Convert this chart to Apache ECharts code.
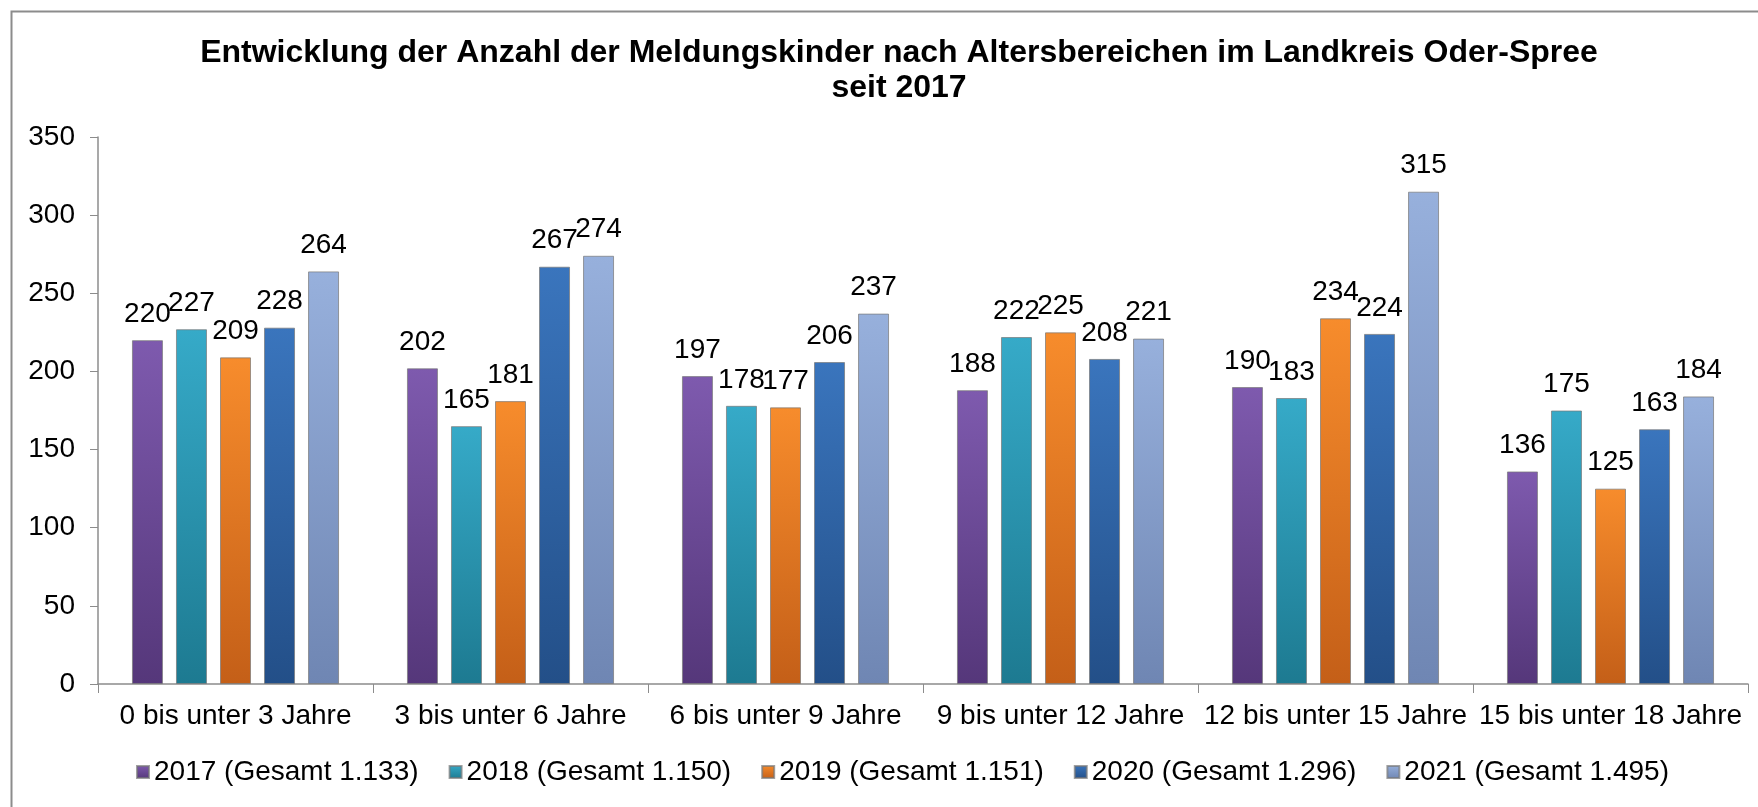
<!DOCTYPE html>
<html>
<head>
<meta charset="utf-8">
<script src="https://cdn.jsdelivr.net/npm/echarts@6/dist/echarts.min.js"></script>
<style>
  html, body { margin: 0; padding: 0; background: #fff; }
  #chart { width: 1758px; height: 807px; }
</style>
</head>
<body>
<div id="chart"></div>
<script>
// Altersbereiche
var categories = ['0 bis unter 3 Jahre', '3 bis unter 6 Jahre', '6 bis unter 9 Jahre',
  '9 bis unter 12 Jahre', '12 bis unter 15 Jahre', '15 bis unter 18 Jahre'];

var seriesNames = ['2017 (Gesamt 1.133)', '2018 (Gesamt 1.150)', '2019 (Gesamt 1.151)',
  '2020 (Gesamt 1.296)', '2021 (Gesamt 1.495)'];

var values2017 = [220, 202, 197, 188, 190, 136];
var values2018 = [227, 165, 178, 222, 183, 175];
var values2019 = [209, 181, 177, 225, 234, 125];
var values2020 = [228, 267, 206, 208, 224, 163];
var values2021 = [264, 274, 237, 221, 315, 184];

var yTicks = [0, 50, 100, 150, 200, 250, 300, 350];

// top / bottom colour of each bar gradient
var barColors = [
  ['#7e5aae', '#55377a'],
  ['#36aac8', '#1d7a91'],
  ['#f78c2c', '#c45f18'],
  ['#3a75bd', '#234f88'],
  ['#97b0dc', '#6f86b3']
];

var font = '"Liberation Sans", Arial, sans-serif';
var allValues = [values2017, values2018, values2019, values2020, values2021];

function grad(c) {
  return new echarts.graphic.LinearGradient(0, 0, 0, 1, [
    { offset: 0, color: c[0] },
    { offset: 1, color: c[1] }
  ]);
}

var series = allValues.map(function (vals, i) {
  return {
    name: seriesNames[i],
    type: 'bar',
    data: vals,
    barWidth: 31,
    barGap: '42%',
    itemStyle: {
      color: grad(barColors[i]),
      borderColor: 'rgba(120,120,120,0.7)',
      borderWidth: 1
    },
    label: {
      show: true,
      position: 'top',
      distance: 12,
      color: '#000',
      fontFamily: font,
      fontSize: 28
    }
  };
});

var chart = echarts.init(document.getElementById('chart'));
chart.setOption({
  animation: false,
  backgroundColor: '#fff',
  graphic: [{
    type: 'rect',
    left: 9, top: 9,
    shape: { width: 1800, height: 850 },
    style: { fill: 'none', stroke: '#8c8c8c', lineWidth: 2 },
    silent: true
  }],
  title: {
    text: 'Entwicklung der Anzahl der Meldungskinder nach Altersbereichen im Landkreis Oder-Spree\nseit 2017',
    left: 894,
    top: 31,
    textAlign: 'center',
    textStyle: {
      fontFamily: font,
      fontWeight: 'bold',
      fontSize: 32,
      lineHeight: 35,
      color: '#000'
    }
  },
  legend: {
    data: seriesNames,
    top: 753,
    left: 131,
    itemWidth: 12,
    itemHeight: 12,
    itemGap: 30,
    icon: 'rect',
    textStyle: { fontFamily: font, fontSize: 28, color: '#000' }
  },
  grid: { left: 98, right: 10, top: 137, bottom: 123, containLabel: false },
  xAxis: {
    type: 'category',
    data: categories,
    axisLine: { lineStyle: { color: '#8c8c8c', width: 1.5 } },
    axisTick: { show: true, length: 9, lineStyle: { color: '#8c8c8c' } },
    axisLabel: { interval: 0, fontFamily: font, fontSize: 28, color: '#000', margin: 18 }
  },
  yAxis: {
    type: 'value',
    min: yTicks[0],
    max: yTicks[yTicks.length - 1],
    interval: 50,
    splitLine: { show: false },
    axisLine: { show: true, lineStyle: { color: '#8c8c8c', width: 1.5 } },
    axisTick: { show: true, length: 8, lineStyle: { color: '#8c8c8c' } },
    axisLabel: { fontFamily: font, fontSize: 28, color: '#000', margin: 23 }
  },
  series: series
});
</script>
</body>
</html>
